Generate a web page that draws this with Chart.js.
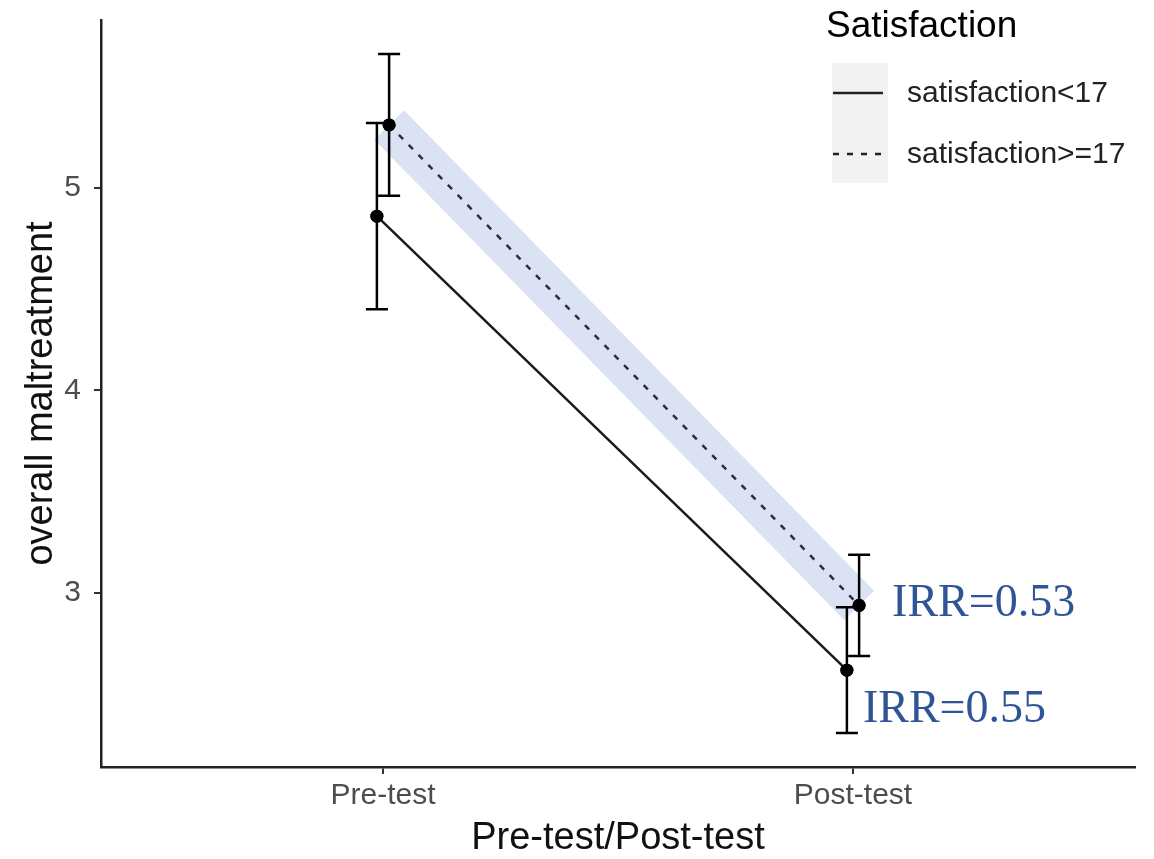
<!DOCTYPE html>
<html>
<head>
<meta charset="utf-8">
<script src="https://cdn.jsdelivr.net/npm/chart.js@4.4.1/dist/chart.umd.min.js"></script>
<style>
  body { margin: 0; background: #fff; }
  #wrap { width: 1154px; height: 859px; position: relative; }
</style>
</head>
<body>
<div id="wrap"><canvas id="myChart"></canvas></div>
<script>
// data
const categories = ["Pre-test", "Post-test"];
const groups = ["satisfaction<17", "satisfaction>=17"];
const meanLow = [4.86, 2.62];
const lowerLow = [4.40, 2.31];
const upperLow = [5.32, 2.93];
const meanHigh = [5.31, 2.94];
const lowerHigh = [4.96, 2.69];
const upperHigh = [5.66, 3.19];
const irrLabels = ["IRR=0.55", "IRR=0.53"];
const yTicks = [3, 4, 5];
const dodge = 0.013;

const FONT = "'Liberation Sans', Arial, sans-serif";

// ggplot style 5% expansion of the data range
const allVals = [...lowerLow, ...upperLow, ...lowerHigh, ...upperHigh];
const dMin = Math.min(...allVals), dMax = Math.max(...allVals);
const yMin = dMin - 0.05 * (dMax - dMin);
const yMax = dMax + 0.05 * (dMax - dMin);

const lowPts = categories.map((c, i) => ({ x: i - dodge, y: meanLow[i] }));
const highPts = categories.map((c, i) => ({ x: i + dodge, y: meanHigh[i] }));

// error bars + IRR labels
const errorBars = {
    id: "errorBars",
    afterDatasetsDraw(chart) {
        const { ctx, scales: { x, y } } = chart;
        const sets = [
            { pts: lowPts, lo: lowerLow, hi: upperLow },
            { pts: highPts, lo: lowerHigh, hi: upperHigh }
        ];
        ctx.save();
        ctx.strokeStyle = "#000";
        ctx.lineWidth = 2.5;
        sets.forEach(s => {
            s.pts.forEach((p, i) => {
                const px = x.getPixelForValue(p.x);
                const y1 = y.getPixelForValue(s.lo[i]);
                const y2 = y.getPixelForValue(s.hi[i]);
                ctx.beginPath();
                ctx.moveTo(px, y1); ctx.lineTo(px, y2);
                ctx.moveTo(px - 11, y1); ctx.lineTo(px + 11, y1);
                ctx.moveTo(px - 11, y2); ctx.lineTo(px + 11, y2);
                ctx.stroke();
            });
        });
        // redraw points on top
        ctx.fillStyle = "#000";
        [...lowPts, ...highPts].forEach(p => {
            ctx.beginPath();
            ctx.arc(x.getPixelForValue(p.x), y.getPixelForValue(p.y), 6.5, 0, Math.PI * 2);
            ctx.fill();
        });

        // IRR annotations
        ctx.fillStyle = "#2f5597";
        ctx.font = "46px 'Liberation Serif', 'Times New Roman', serif";
        ctx.textBaseline = "middle";
        ctx.textAlign = "left";
        const last = categories.length - 1;
        ctx.fillText(irrLabels[0], x.getPixelForValue(lowPts[last].x) + 16, y.getPixelForValue(meanLow[last]) + 40);
        ctx.fillText(irrLabels[1], x.getPixelForValue(highPts[last].x) + 33, y.getPixelForValue(meanHigh[last]) - 1);
        ctx.restore();
    }
};

// legend in the ggplot way
const ggLegend = {
    id: "ggLegend",
    afterDraw(chart) {
        const ctx = chart.ctx;
        ctx.save();
        ctx.fillStyle = "#000";
        ctx.font = "37px " + FONT;
        ctx.textBaseline = "middle";
        ctx.fillText("Satisfaction", 826, 27);

        ctx.fillStyle = "#f2f2f2";
        ctx.fillRect(832, 63, 56, 120);

        ctx.strokeStyle = "#222";
        ctx.lineWidth = 2.5;
        ctx.beginPath(); ctx.moveTo(833, 93); ctx.lineTo(883, 93); ctx.stroke();
        ctx.setLineDash([6, 8]);
        ctx.beginPath(); ctx.moveTo(833, 154); ctx.lineTo(883, 154); ctx.stroke();
        ctx.setLineDash([]);

        ctx.fillStyle = "#222";
        ctx.font = "30px " + FONT;
        ctx.fillText(groups[0], 907, 94);
        ctx.fillText(groups[1], 907, 155);
        ctx.restore();
    }
};

const ctx = document.getElementById("myChart").getContext("2d");
const myChart = new Chart(ctx, {
    type: "line",
    data: {
        datasets: [
            {
                label: groups[0],
                data: lowPts,
                borderColor: "#1a1a1a",
                borderWidth: 2.5,
                pointRadius: 6.5,
                pointBackgroundColor: "#000",
                pointBorderWidth: 0,
                order: 0
            },
            {
                label: groups[1],
                data: highPts,
                borderColor: "#2a2f3a",
                borderWidth: 2.5,
                borderDash: [6, 8],
                pointRadius: 6.5,
                pointBackgroundColor: "#000",
                pointBorderWidth: 0,
                order: 1
            },
            {
                label: "band",
                data: highPts,
                borderColor: "rgb(219, 226, 243)",
                borderWidth: 42,
                borderCapStyle: "butt",
                pointRadius: 0,
                order: 5
            }
        ]
    },
    options: {
        responsive: true,
        maintainAspectRatio: false,
        animation: false,
        layout: { padding: { top: 20, right: 19, left: 0, bottom: 0 } },
        plugins: {
            legend: { display: false },
            tooltip: { enabled: false }
        },
        scales: {
            x: {
                type: "linear",
                min: -0.6,
                max: categories.length - 1 + 0.6,
                afterBuildTicks: scale => {
                    scale.ticks = categories.map((c, i) => ({ value: i }));
                },
                afterFit: scale => {
                    scale.height = 92;
                    scale.paddingLeft = 0;
                    scale.paddingRight = 0;
                },
                ticks: {
                    callback: v => categories[v],
                    color: "#4d4d4d",
                    font: { family: FONT, size: 30 },
                    padding: 4,
                    maxRotation: 0
                },
                grid: { drawOnChartArea: false, tickLength: 7, color: "#333", lineWidth: 2 },
                border: { color: "#222", width: 2.5 },
                title: {
                    display: true,
                    text: "Pre-test/Post-test",
                    color: "#111",
                    font: { family: FONT, size: 38, lineHeight: 1.1 },
                    padding: { top: 0, bottom: 0 }
                }
            },
            y: {
                min: yMin,
                max: yMax,
                afterBuildTicks: scale => {
                    scale.ticks = yTicks.map(v => ({ value: v }));
                },
                afterFit: scale => {
                    scale.width = 101;
                    scale.paddingTop = 0;
                    scale.paddingBottom = 0;
                },
                ticks: {
                    color: "#4d4d4d",
                    font: { family: FONT, size: 30 },
                    padding: 13
                },
                grid: { drawOnChartArea: false, tickLength: 7, color: "#333", lineWidth: 2 },
                border: { color: "#222", width: 2.5 },
                title: {
                    display: true,
                    text: "overall maltreatment",
                    color: "#111",
                    font: { family: FONT, size: 38, lineHeight: 1.2 },
                    padding: { top: 19, bottom: 0 }
                }
            }
        }
    },
    plugins: [errorBars, ggLegend]
});
</script>
</body>
</html>
